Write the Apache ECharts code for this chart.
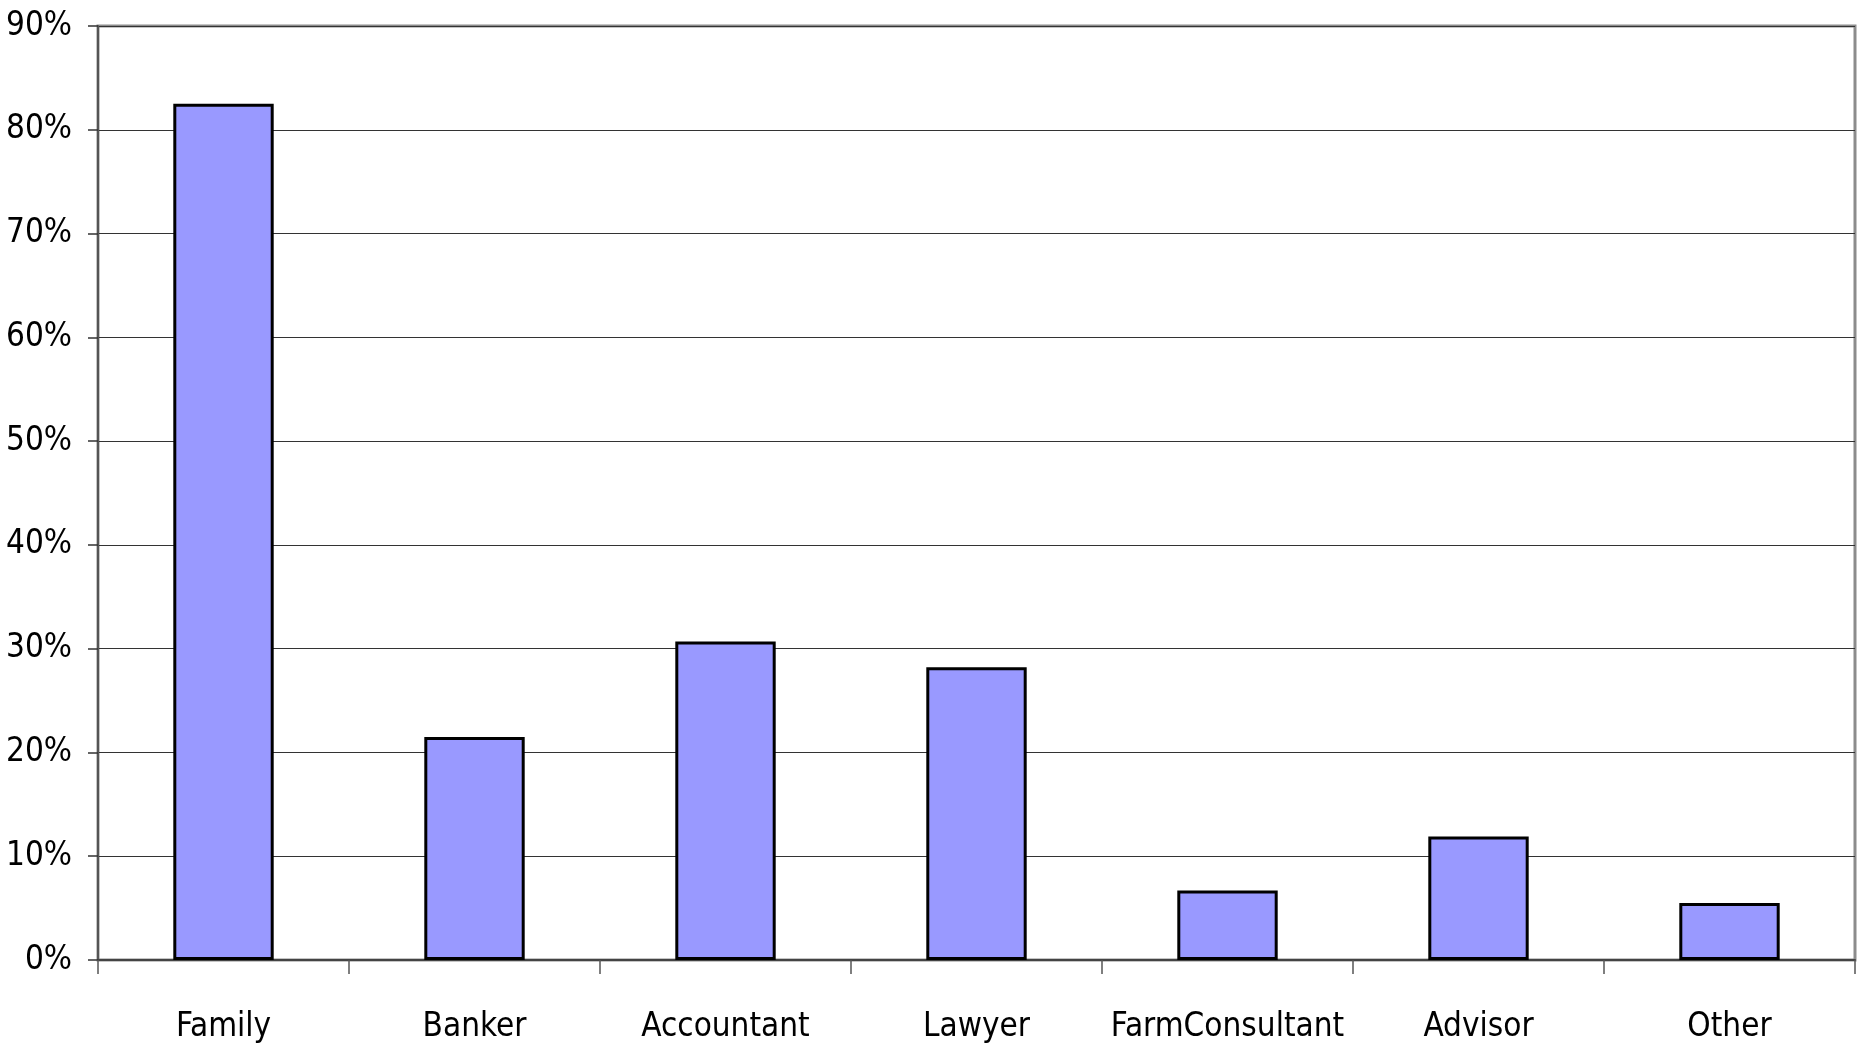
<!DOCTYPE html>
<html>
<head>
<meta charset="utf-8">
<script src="https://cdn.jsdelivr.net/npm/echarts@6/dist/echarts.min.js"></script>
<style>
html,body{margin:0;padding:0;background:#fff;}
#c{width:1863px;height:1047px;}
</style>
</head>
<body>
<div id="c"></div>
<script>
var categories = ["Family", "Banker", "Accountant", "Lawyer", "FarmConsultant", "Advisor", "Other"];
var values = [82.5, 21.5, 30.7, 28.2, 6.7, 11.9, 5.5];
var yTicks = [0, 10, 20, 30, 40, 50, 60, 70, 80, 90];

var FONT = '"Liberation Sans Narrow", "Arial Narrow", "DejaVu Sans Condensed", sans-serif';
var chart = echarts.init(document.getElementById('c'));
chart.setOption({
  animation: false,
  backgroundColor: '#ffffff',
  grid: {
    left: 98, right: 8, top: 26, bottom: 87,
    outerBoundsMode: 'none', containLabel: false,
    show: true, borderColor: '#8c8c8c', borderWidth: 3, backgroundColor: 'transparent'
  },
  xAxis: {
    type: 'category',
    data: categories,
    axisLine: { show: true, lineStyle: { color: '#444', width: 2 } },
    axisTick: { show: true, alignWithLabel: false, length: 14, lineStyle: { color: '#555', width: 1.5 } },
    axisLabel: { color: '#000', fontFamily: FONT, fontSize: 33, margin: 51, interval: 0 },
    splitLine: { show: false }
  },
  yAxis: {
    type: 'value',
    min: yTicks[0], max: yTicks[yTicks.length - 1], interval: 10,
    axisLine: { show: true, lineStyle: { color: '#555', width: 2 } },
    axisTick: { show: true, length: 10, lineStyle: { color: '#333', width: 1.5 } },
    axisLabel: { color: '#000', fontFamily: FONT, fontSize: 33, margin: 26, formatter: function (v) { return v + '%'; } },
    splitLine: { show: true, lineStyle: { color: '#333', width: 1.2 } }
  },
  series: [{
    type: 'bar',
    data: values,
    barWidth: '40%',
    itemStyle: { color: '#9999ff', borderColor: '#000', borderWidth: 3 }
  }]
});
</script>
</body>
</html>
